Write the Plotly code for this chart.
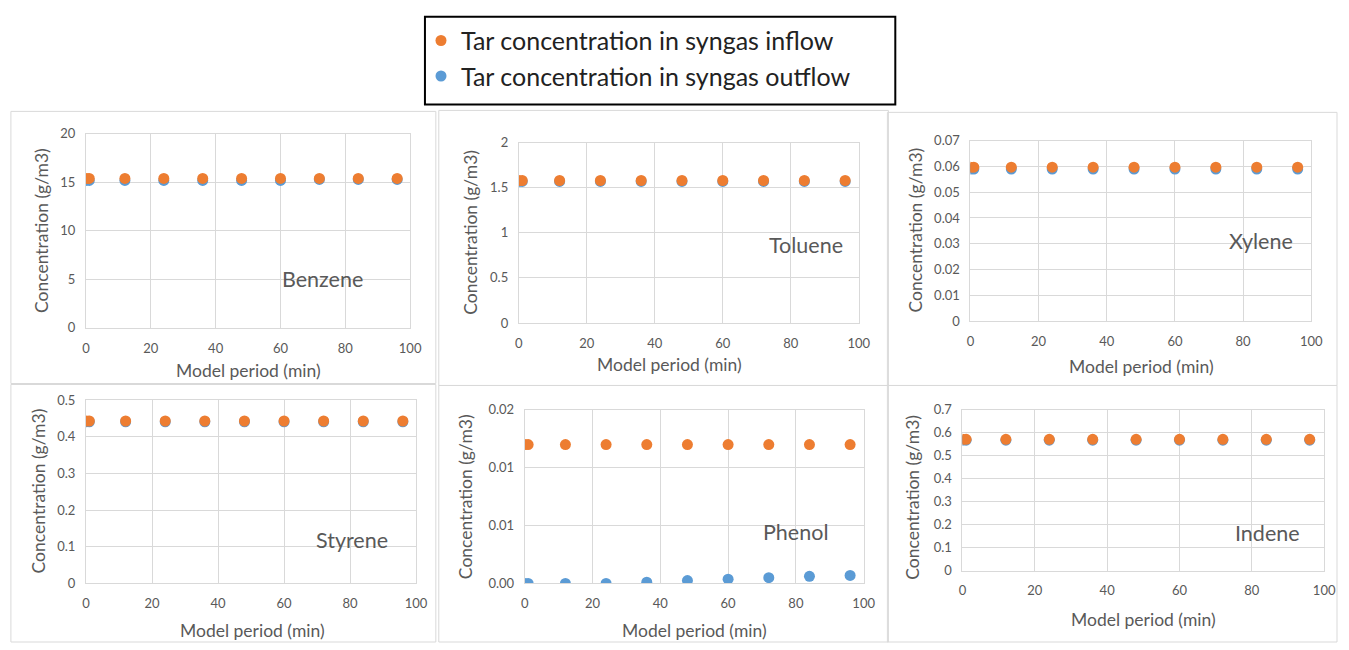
import plotly.graph_objects as go

W, H = 1349, 650

time_min = [0, 1, 12, 24, 36, 48, 60, 72, 84, 96]

benzene_in = [15.4, 15.4, 15.4, 15.4, 15.4, 15.4, 15.4, 15.4, 15.4, 15.4]
benzene_out = [15.2, 15.2, 15.2, 15.2, 15.2, 15.2, 15.2, 15.3, 15.3, 15.3]
toluene_in = [1.58, 1.58, 1.58, 1.58, 1.58, 1.58, 1.58, 1.58, 1.58, 1.58]
toluene_out = [1.57, 1.57, 1.57, 1.57, 1.57, 1.57, 1.57, 1.57, 1.57, 1.57]
xylene_in = [0.0597, 0.0597, 0.0597, 0.0597, 0.0597, 0.0597, 0.0597, 0.0597, 0.0597, 0.0597]
xylene_out = [0.0590, 0.0590, 0.0590, 0.0590, 0.0590, 0.0590, 0.0590, 0.0590, 0.0590, 0.0590]
styrene_in = [0.443, 0.443, 0.443, 0.443, 0.443, 0.443, 0.443, 0.443, 0.443, 0.443]
styrene_out = [0.441, 0.441, 0.441, 0.441, 0.441, 0.441, 0.441, 0.441, 0.441, 0.441]
phenol_in = [0.016, 0.016, 0.016, 0.016, 0.016, 0.016, 0.016, 0.016, 0.016, 0.016]
phenol_out = [0.0, 0.0, 0.0, 0.0, 0.00015, 0.00034, 0.00049, 0.00067, 0.00082, 0.00093]
indene_in = [0.572, 0.572, 0.572, 0.572, 0.572, 0.572, 0.572, 0.572, 0.572, 0.572]
indene_out = [0.568, 0.568, 0.568, 0.568, 0.568, 0.568, 0.568, 0.568, 0.568, 0.568]

compounds = ["Benzene", "Toluene", "Xylene", "Styrene", "Phenol", "Indene"]
inflows = [benzene_in, toluene_in, xylene_in, styrene_in, phenol_in, indene_in]
outflows = [benzene_out, toluene_out, xylene_out, styrene_out, phenol_out, indene_out]
y_ranges = [[0, 20], [0, 2], [0, 0.07], [0, 0.5], [0, 0.02], [0, 0.7]]
y_dticks = [5, 0.5, 0.01, 0.1, None, 0.1]
phenol_tickvals = [0, 0.02 / 3, 0.04 / 3, 0.02]
phenol_ticktext = ["0.00", "0.01", "0.01", "0.02"]
x_range = [0, 100]
x_dtick = 20

legend_in = "Tar concentration in syngas inflow"
legend_out = "Tar concentration in syngas outflow"
x_title = "Model period (min)"
y_title = "Concentration (g/m3)"

# layout in pixels: (left, right, top, bottom) of plot areas
plot_px = [
    (83, 411, 129, 328),
    (521, 865, 138, 323),
    (978, 1323, 136, 321),
    (83, 417, 402, 590),
    (527, 870, 412, 590),
    (970, 1336, 412, 577),
]
panel_px = [
    (7, 437, 106, 385),
    (440, 895, 105, 387),
    (894, 1349, 107, 387),
    (7, 437, 386, 650),
    (440, 895, 387, 650),
    (894, 1349, 387, 650),
]
name_px = [(322, 278), (812, 243), (1272, 239), (352, 545), (801, 537), (1279, 538)]
ytitle_px = [(38, 228), (472, 230), (922, 228), (35, 495), (467, 501), (920, 502)]
xtitle_px = [(247, 372), (673, 365), (1151, 368), (251, 638), (699, 638), (1153, 627)]

ORANGE = "#ED7D31"
BLUE = "#5B9BD5"
GRAY_TXT = "#595959"
GRID = "#D9D9D9"
FONT = "Lato, 'Open Sans', sans-serif"


def px_x(x):
    return x / W


def px_y(y):
    return 1 - y / H


fig = go.Figure()
layout = {}
shapes = []
annotations = []

for i, name in enumerate(compounds):
    k = i + 1
    xa = "x" if k == 1 else f"x{k}"
    ya = "y" if k == 1 else f"y{k}"
    fig.add_trace(go.Scatter(
        x=time_min, y=outflows[i], mode="markers", name=legend_out,
        marker=dict(color=BLUE, size=11), xaxis=xa, yaxis=ya,
        showlegend=(k == 1), legendrank=2, hoverinfo="skip"))
    fig.add_trace(go.Scatter(
        x=time_min, y=inflows[i], mode="markers", name=legend_in,
        marker=dict(color=ORANGE, size=11), xaxis=xa, yaxis=ya,
        showlegend=(k == 1), legendrank=1, hoverinfo="skip"))

    l, r, t, b = plot_px[i]
    xkey = "xaxis" if k == 1 else f"xaxis{k}"
    ykey = "yaxis" if k == 1 else f"yaxis{k}"
    layout[xkey] = dict(
        domain=[px_x(l), px_x(r)], anchor=ya, range=x_range, dtick=x_dtick,
        showgrid=True, gridcolor=GRID, gridwidth=1, zeroline=False,
        showline=True, linecolor=GRID, mirror=True,
        tickfont=dict(family=FONT, size=13, color=GRAY_TXT),
        ticks="", ticklabelstandoff=8, fixedrange=True)
    ydict = dict(
        domain=[px_y(b), px_y(t)], anchor=xa, range=y_ranges[i],
        showgrid=True, gridcolor=GRID, gridwidth=1, zeroline=False,
        showline=True, linecolor=GRID, mirror=True,
        tickfont=dict(family=FONT, size=13, color=GRAY_TXT),
        ticks="", ticklabelstandoff=7, fixedrange=True)
    if y_dticks[i] is None:
        ydict.update(tickmode="array", tickvals=phenol_tickvals, ticktext=phenol_ticktext)
    else:
        ydict.update(dtick=y_dticks[i], tick0=0)
    layout[ykey] = ydict

    pl, pr, pt, pb = panel_px[i]
    shapes.append(dict(type="rect", xref="paper", yref="paper",
                       x0=px_x(pl), x1=px_x(pr), y0=px_y(pb), y1=px_y(pt),
                       line=dict(color=GRID, width=1), fillcolor="rgba(0,0,0,0)",
                       layer="below"))

    nx, ny = name_px[i]
    annotations.append(dict(text=name, xref="paper", yref="paper",
                            x=px_x(nx), y=px_y(ny), xanchor="center", yanchor="middle",
                            showarrow=False,
                            font=dict(family=FONT, size=21.5, color=GRAY_TXT)))
    yx, yy = ytitle_px[i]
    annotations.append(dict(text=y_title, xref="paper", yref="paper",
                            x=px_x(yx), y=px_y(yy), xanchor="center", yanchor="middle",
                            showarrow=False, textangle=-90,
                            font=dict(family=FONT, size=17.5, color=GRAY_TXT)))
    tx, ty = xtitle_px[i]
    annotations.append(dict(text=x_title, xref="paper", yref="paper",
                            x=px_x(tx), y=px_y(ty), xanchor="center", yanchor="middle",
                            showarrow=False,
                            font=dict(family=FONT, size=17.5, color=GRAY_TXT)))

# legend frame
shapes.append(dict(type="rect", xref="paper", yref="paper",
                   x0=px_x(426), x1=px_x(902), y0=px_y(99), y1=px_y(9),
                   line=dict(color="#000000", width=2), fillcolor="white", layer="below"))

fig.update_layout(
    width=W, height=H,
    margin=dict(l=0, r=0, t=0, b=0),
    paper_bgcolor="white", plot_bgcolor="white",
    showlegend=True,
    legend=dict(x=px_x(422), y=px_y(10), xanchor="left", yanchor="top",
                bgcolor="rgba(0,0,0,0)", borderwidth=0,
                font=dict(family=FONT, size=25, color="#222222"),
                itemwidth=30, tracegroupgap=0),
    shapes=shapes,
    annotations=annotations,
    **layout,
)

fig.write_html(
    "out.html",
    config={"displayModeBar": False, "staticPlot": True},
    post_script=(
        "document.documentElement.style.margin='0';"
        "document.body.style.margin='0';document.body.style.padding='0';"
        "document.body.style.overflow='hidden';"
    ),
)
